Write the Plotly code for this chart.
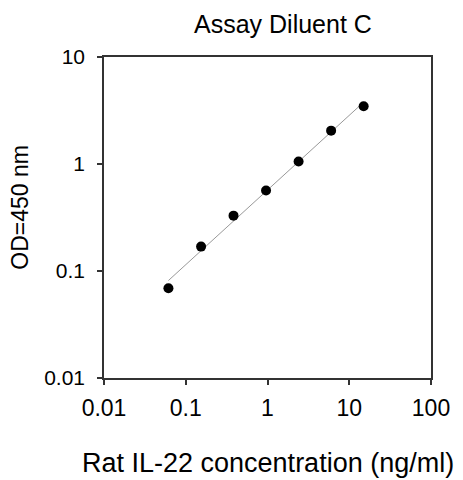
import numpy as np
import plotly.graph_objects as go

# Data
concentration = [0.0614, 0.154, 0.384, 0.96, 2.4, 6.0, 15.0]
od450 = [0.069, 0.169, 0.329, 0.566, 1.057, 2.05, 3.46]

x_ticks = [0.01, 0.1, 1, 10, 100]
x_tick_labels = ["0.01", "0.1", "1", "10", "100"]
y_ticks = [0.01, 0.1, 1, 10]
y_tick_labels = ["0.01", "0.1", "1", "10"]

title_text = "Assay Diluent C"
x_title = "Rat IL-22 concentration (ng/ml)"
y_title = "OD=450 nm"

# log-log linear fit
lx = np.log10(concentration)
ly = np.log10(od450)
slope, intercept = np.polyfit(lx, ly, 1)
fit_x = [min(concentration), max(concentration)]
fit_y = [10 ** (intercept + slope * np.log10(v)) for v in fit_x]

FONT = "Liberation Sans, Arial, sans-serif"
AXIS_COLOR = "#333333"

fig = go.Figure()
fig.add_trace(go.Scatter(
    x=fit_x, y=fit_y, mode="lines",
    line=dict(color="#999999", width=1),
    showlegend=False, hoverinfo="skip",
))
fig.add_trace(go.Scatter(
    x=concentration, y=od450, mode="markers",
    marker=dict(color="black", size=10),
    showlegend=False,
))

OFF = 8  # page body margin
W, H = 463 - OFF, 480 - OFF
ml, mr, mt, mb = 104 - OFF, 32, 57 - OFF, 102
PW = W - ml - mr
PH = H - mt - mb

fig.update_layout(
    width=W, height=H,
    margin=dict(l=ml, r=mr, t=mt, b=mb),
    paper_bgcolor="white", plot_bgcolor="white",
    font=dict(family=FONT, color="black"),
    xaxis=dict(
        type="log", range=[-2, 2],
        tickvals=x_ticks, ticktext=x_tick_labels,
        ticks="outside", ticklen=5, tickwidth=1.5, tickcolor=AXIS_COLOR,
        ticklabelstandoff=4,
        showline=True, linecolor=AXIS_COLOR, linewidth=1.5, mirror=True,
        showgrid=False, zeroline=False,
        tickfont=dict(size=23, family=FONT, color="black"),
    ),
    yaxis=dict(
        type="log", range=[-2, 1],
        tickvals=y_ticks, ticktext=y_tick_labels,
        ticks="outside", ticklen=5, tickwidth=1.5, tickcolor=AXIS_COLOR,
        ticklabelstandoff=8,
        showline=True, linecolor=AXIS_COLOR, linewidth=1.5, mirror=True,
        showgrid=False, zeroline=False,
        tickfont=dict(size=21, family=FONT, color="black"),
    ),
    annotations=[
        dict(text=title_text, xref="paper", yref="paper",
             x=(282.5 - 104) / PW, y=1 + (57 - 9) / PH, xanchor="center", yanchor="top",
             showarrow=False, borderpad=0, font=dict(size=25, family=FONT, color="black")),
        dict(text=x_title, xref="paper", yref="paper",
             x=0.5, y=(378.3 - 463) / PH, xanchor="center", yanchor="middle",
             showarrow=False, font=dict(size=27, family=FONT, color="black")),
        dict(text=y_title, xref="paper", yref="paper",
             x=(20 - 104) / PW, y=(378.3 - 208) / PH, xanchor="center", yanchor="middle",
             textangle=-90, showarrow=False, font=dict(size=23, family=FONT, color="black")),
    ],
)

fig.write_html("out.html")
